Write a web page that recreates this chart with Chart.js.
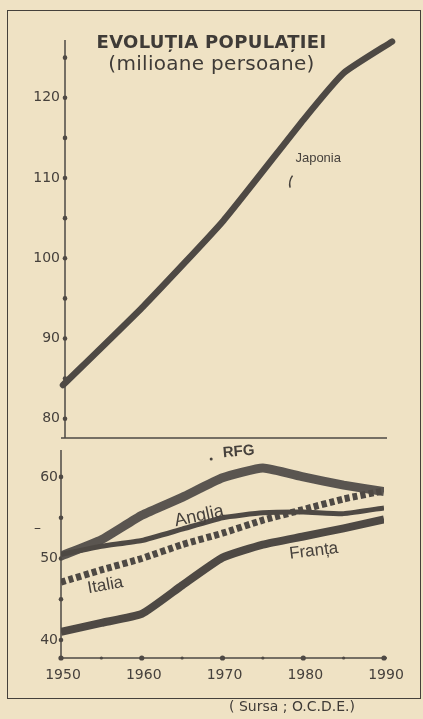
<!DOCTYPE html>
<html>
<head>
<meta charset="utf-8">
<script src="https://cdn.jsdelivr.net/npm/chart.js"></script>
<style>
    body { margin: 0; width: 423px; height: 719px; overflow: hidden; position: relative; background: #efe2c4; font-family: "DejaVu Sans", sans-serif; }
    canvas { position: absolute; left: 0; top: 0; }
    .rama { position: absolute; left: 7px; top: 10px; width: 412px; height: 687px; border: 1.5px solid #45403b; }
    .titlu { position: absolute; left: 0; width: 423px; text-align: center; color: #3f3b37; letter-spacing: 0.3px; }
    .sursa { position: absolute; left: 229px; top: 698px; font-size: 14px; color: #3f3b37; }
</style>
</head>
<body>
<div class="rama"></div>
<canvas id="graficSus" width="423" height="719"></canvas>
<canvas id="graficJos" width="423" height="719"></canvas>
<div class="titlu" style="top:31px;font-size:18px;font-weight:bold;">EVOLUȚIA POPULAȚIEI</div>
<div class="titlu" style="top:51px;font-size:20px;">(milioane persoane)</div>
<div class="sursa">( Sursa ; O.C.D.E.)</div>
<script>
// date (milioane locuitori)
const aniJaponia = [1950, 1960, 1970, 1980, 1985, 1991];
const japonia = [84.2, 94.0, 104.7, 117.3, 123.1, 127.0];

const ani = [1950, 1955, 1960, 1965, 1970, 1975, 1980, 1985, 1990];
const rfg = [50.3, 52.3, 55.3, 57.5, 59.9, 61.1, 60.0, 59.0, 58.2];
const anglia = [50.5, 51.5, 52.2, 53.6, 55.0, 55.6, 55.7, 55.5, 56.2];
const italia = [47.1, 48.6, 50.0, 51.7, 53.1, 54.7, 56.0, 57.3, 58.3];
const franta = [41.0, 42.1, 43.2, 46.7, 50.1, 51.7, 52.7, 53.7, 54.8];

const ticksSus = [80, 90, 100, 110, 120];
const ticksJos = [40, 50, 60];
const aniEtichete = [1950, 1960, 1970, 1980, 1990];

const culoareLinie = '#4e4944';
const culoareText = '#46413c';

function puncte(xs, ys) {
    return xs.map((x, i) => ({ x: x, y: ys[i] }));
}

function punct(ctx, x, y, r) {
    ctx.beginPath();
    ctx.arc(x, y, r, 0, Math.PI * 2);
    ctx.fill();
}

function eticheta(ctx, text, x, y, unghi, font) {
    ctx.save();
    ctx.translate(x, y);
    ctx.rotate(unghi * Math.PI / 180);
    ctx.font = font;
    ctx.textAlign = 'center';
    ctx.textBaseline = 'middle';
    ctx.fillText(text, 0, 0);
    ctx.restore();
}

//------------------------------- axe si etichete -------------------------------//

const axeSus = {
    id: 'axeSus',
    beforeDatasetsDraw(chart) {
        const { ctx, chartArea: a, scales: { y } } = chart;
        ctx.save();
        ctx.strokeStyle = culoareLinie;
        ctx.fillStyle = culoareLinie;
        ctx.lineWidth = 1.5;
        ctx.beginPath();
        ctx.moveTo(a.left + 2, a.top);
        ctx.lineTo(a.left + 2, a.bottom);
        ctx.moveTo(a.left - 2, a.bottom);
        ctx.lineTo(a.right + 3, a.bottom);
        ctx.stroke();
        for (let v = 80; v <= 125; v += 5) punct(ctx, a.left + 2, y.getPixelForValue(v), 2.3);
        ctx.fillStyle = culoareText;
        ctx.font = '14px "DejaVu Sans"';
        ctx.textAlign = 'right';
        ctx.textBaseline = 'middle';
        ticksSus.forEach(v => ctx.fillText(String(v), a.left - 3, y.getPixelForValue(v)));
        ctx.restore();
    },
    afterDatasetsDraw(chart) {
        const { ctx, scales: { x, y } } = chart;
        ctx.save();
        ctx.fillStyle = culoareText;
        ctx.strokeStyle = culoareText;
        eticheta(ctx, 'Japonia', x.getPixelForValue(1981.8), y.getPixelForValue(112.5), 0, '13px "Liberation Sans"');
        ctx.lineWidth = 1.5;
        ctx.beginPath();
        ctx.moveTo(x.getPixelForValue(1978.6), y.getPixelForValue(110.3));
        ctx.quadraticCurveTo(x.getPixelForValue(1978.1), y.getPixelForValue(109.6), x.getPixelForValue(1978.3), y.getPixelForValue(108.8));
        ctx.stroke();
        ctx.restore();
    }
};

const axeJos = {
    id: 'axeJos',
    beforeDatasetsDraw(chart) {
        const { ctx, chartArea: a, scales: { x, y } } = chart;
        ctx.save();
        ctx.strokeStyle = culoareLinie;
        ctx.fillStyle = culoareLinie;
        ctx.lineWidth = 1.5;
        ctx.beginPath();
        ctx.moveTo(a.left, a.top);
        ctx.lineTo(a.left, a.bottom);
        ctx.lineTo(a.right + 3, a.bottom);
        ctx.stroke();
        for (let v = 40; v <= 60; v += 5) punct(ctx, a.left, y.getPixelForValue(v), 2.3);
        for (let an = 1950; an <= 1990; an += 5) punct(ctx, x.getPixelForValue(an), a.bottom, an % 10 === 0 ? 2.6 : 1.6);
        ctx.fillStyle = culoareText;
        ctx.font = '14px "DejaVu Sans"';
        ctx.textAlign = 'right';
        ctx.textBaseline = 'middle';
        ticksJos.forEach(v => ctx.fillText(String(v), a.left - 3, y.getPixelForValue(v)));
        ctx.fillText('–', a.left - 20, y.getPixelForValue(53.7));
        ctx.textAlign = 'center';
        ctx.textBaseline = 'top';
        aniEtichete.forEach(an => ctx.fillText(String(an), x.getPixelForValue(an) + 2, a.bottom + 10));
        ctx.restore();
    },
    afterDatasetsDraw(chart) {
        const { ctx, scales: { x, y } } = chart;
        ctx.save();
        ctx.fillStyle = culoareText;
        eticheta(ctx, 'RFG', x.getPixelForValue(1972), y.getPixelForValue(63.1), -5, 'bold 15px "Liberation Sans"');
        punct(ctx, x.getPixelForValue(1968.6), y.getPixelForValue(62.2), 1.5);
        eticheta(ctx, 'Anglia', x.getPixelForValue(1967.1), y.getPixelForValue(55.2), -12, '18px "Liberation Sans"');
        eticheta(ctx, 'Italia', x.getPixelForValue(1955.5), y.getPixelForValue(46.7), -10, '17px "Liberation Sans"');
        eticheta(ctx, 'Franța', x.getPixelForValue(1981.3), y.getPixelForValue(50.9), -7, '17px "Liberation Sans"');
        ctx.restore();
    }
};

//------------------------------- grafice -------------------------------//

const optiuniComune = {
    responsive: false,
    animation: false,
    events: [],
    plugins: { legend: { display: false }, tooltip: { enabled: false } },
};

new Chart(document.getElementById('graficSus').getContext('2d'), {
    type: 'line',
    data: {
        datasets: [{
            label: 'Japonia',
            data: puncte(aniJaponia, japonia),
            borderColor: culoareLinie,
            borderWidth: 6.5,
            borderCapStyle: 'round',
            pointRadius: 0,
            tension: 0.15,
            clip: false,
        }],
    },
    options: {
        ...optiuniComune,
        layout: { padding: { left: 63, right: 39, top: 40, bottom: 281 } },
        scales: {
            x: { type: 'linear', min: 1950, max: 1990, display: false },
            y: { min: 77.6, max: 127.2, display: false },
        },
    },
    plugins: [axeSus],
});

new Chart(document.getElementById('graficJos').getContext('2d'), {
    type: 'line',
    data: {
        datasets: [
            { label: 'Franța', data: puncte(ani, franta), borderColor: culoareLinie, borderWidth: 8, pointRadius: 0, tension: 0.15 },
            { label: 'Italia', data: puncte(ani, italia), borderColor: culoareLinie, borderWidth: 7, borderDash: [5, 3], pointRadius: 0, tension: 0.15 },
            { label: 'Anglia', data: puncte(ani, anglia), borderColor: culoareLinie, borderWidth: 5, pointRadius: 0, tension: 0.15 },
            { label: 'RFG', data: puncte(ani, rfg), borderColor: '#5a5550', borderWidth: 9, pointRadius: 0, tension: 0.15 },
        ],
    },
    options: {
        ...optiuniComune,
        layout: { padding: { left: 61, right: 39, top: 450, bottom: 61 } },
        scales: {
            x: { type: 'linear', min: 1950, max: 1990, display: false },
            y: { min: 37.8, max: 63.3, display: false },
        },
    },
    plugins: [axeJos],
});
</script>
</body>
</html>
